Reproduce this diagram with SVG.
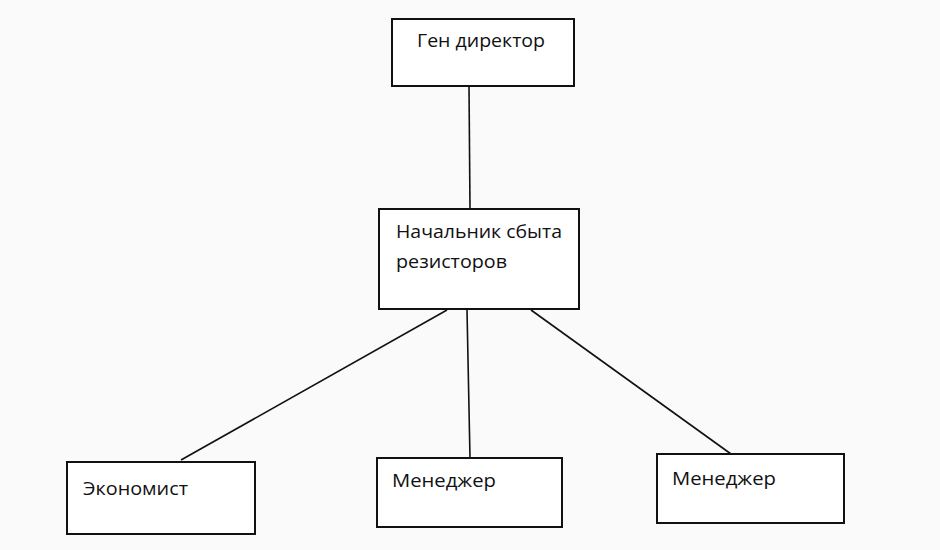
<svg xmlns="http://www.w3.org/2000/svg" width="940" height="550" viewBox="0 0 940 550">
<style>
.box{fill:#ffffff;stroke:#111;stroke-width:2}
.lbl{font-family:"Open Sans","Liberation Sans",sans-serif;font-size:18px;fill:#111}
.con{stroke:#111;stroke-width:1.6;fill:none}
</style>
<rect width="940" height="550" fill="#fafafa"/>
<g id="connectors">
<line class="con" x1="469" y1="86" x2="470" y2="209"/>
<line class="con" x1="447" y1="310" x2="181" y2="460"/>
<line class="con" x1="467" y1="310" x2="470" y2="458"/>
<line class="con" x1="531" y1="310" x2="731" y2="454"/>
</g>
<g id="gen">
<rect class="box" x="392" y="19" width="182" height="67"/>
<text class="lbl" x="417" y="47" textLength="128" lengthAdjust="spacingAndGlyphs">Ген директор</text>
</g>
<g id="nachalnik">
<rect class="box" x="379" y="209" width="200" height="100"/>
<text class="lbl" x="396" y="238" textLength="166" lengthAdjust="spacingAndGlyphs">Начальник сбыта</text>
<text class="lbl" x="396" y="268" textLength="111" lengthAdjust="spacingAndGlyphs">резисторов</text>
</g>
<g id="ekonomist">
<rect class="box" x="67" y="462" width="188" height="72"/>
<text class="lbl" x="83" y="495" textLength="105" lengthAdjust="spacingAndGlyphs">Экономист</text>
</g>
<g id="manager1">
<rect class="box" x="377" y="458" width="185" height="69"/>
<text class="lbl" x="392" y="487" textLength="104" lengthAdjust="spacingAndGlyphs">Менеджер</text>
</g>
<g id="manager2">
<rect class="box" x="657" y="454" width="187" height="69"/>
<text class="lbl" x="672" y="485" textLength="104" lengthAdjust="spacingAndGlyphs">Менеджер</text>
</g>
</svg>
